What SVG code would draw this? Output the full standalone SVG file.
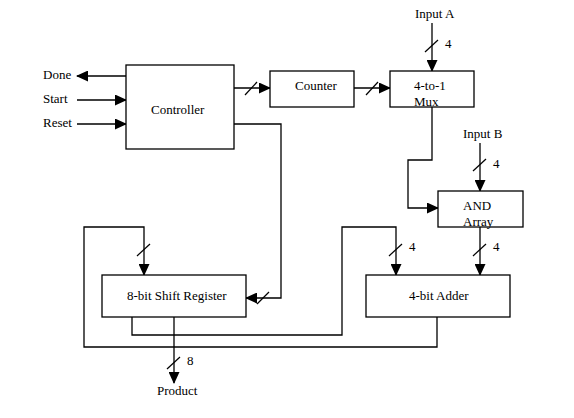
<svg xmlns="http://www.w3.org/2000/svg" width="574" height="418" viewBox="0 0 574 418">
<style>
.box{fill:#fff;stroke:#000;stroke-width:1.3}
.w{fill:none;stroke:#000;stroke-width:1.3}
.s{stroke:#000;stroke-width:1.2}
text{font-family:"Liberation Serif","Times New Roman",serif;font-size:13px;fill:#000}
</style>
<defs>
<marker id="ah" markerUnits="userSpaceOnUse" markerWidth="12" markerHeight="11" refX="11" refY="5.5" orient="auto" viewBox="0 0 12 11">
<path d="M0,0 L12,5.5 L0,11 z" fill="#000"/>
</marker>
</defs>
<rect width="574" height="418" fill="#fff"/>
<g id="connectors">
<line class="w" x1="126" y1="76" x2="77" y2="76" marker-end="url(#ah)"/>
<line class="w" x1="77" y1="100" x2="126" y2="100" marker-end="url(#ah)"/>
<line class="w" x1="77" y1="124" x2="126" y2="124" marker-end="url(#ah)"/>
<line class="w" x1="234" y1="88" x2="270" y2="88" marker-end="url(#ah)"/>
<line class="s" x1="245" y1="95" x2="257" y2="82"/>
<line class="w" x1="354" y1="88" x2="390" y2="88" marker-end="url(#ah)"/>
<line class="s" x1="366" y1="95" x2="378" y2="82"/>
<line class="w" x1="432" y1="23" x2="432" y2="71" marker-end="url(#ah)"/>
<line class="s" x1="425" y1="52" x2="438" y2="40"/>
<polyline class="w" points="432,107 432,160 408,160 408,208 438,208" marker-end="url(#ah)"/>
<line class="w" x1="480" y1="143" x2="480" y2="191" marker-end="url(#ah)"/>
<line class="s" x1="473" y1="171" x2="486" y2="159"/>
<line class="w" x1="480" y1="227" x2="480" y2="275" marker-end="url(#ah)"/>
<line class="s" x1="473" y1="256" x2="486" y2="244"/>
<polyline class="w" points="132,317 132,335 342,335 342,227 396,227 396,275" marker-end="url(#ah)"/>
<line class="s" x1="389" y1="256" x2="402" y2="244"/>
<polyline class="w" points="437,317 437,347 84,347 84,227 144,227 144,275" marker-end="url(#ah)"/>
<line class="s" x1="137" y1="256" x2="150" y2="244"/>
<polyline class="w" points="234,124 281,124 281,298 246,298" marker-end="url(#ah)"/>
<line class="s" x1="257" y1="304" x2="269" y2="292"/>
<line class="w" x1="174" y1="317" x2="174" y2="383" marker-end="url(#ah)"/>
<line class="s" x1="167" y1="369" x2="180" y2="357"/>
</g>
<g id="controller"><rect class="box" x="126" y="65" width="108" height="84"/><text x="151" y="114">Controller</text></g>
<g id="counter"><rect class="box" x="270" y="71" width="84" height="36"/><text x="295" y="90">Counter</text></g>
<g id="mux"><rect class="box" x="390" y="71" width="84" height="36"/><text x="414" y="90">4-to-1</text><text x="414" y="106">Mux</text></g>
<g id="and-array"><rect class="box" x="438" y="191" width="85" height="36"/><text x="463" y="210">AND</text><text x="463" y="226">Array</text></g>
<g id="shift-register"><rect class="box" x="102" y="275" width="144" height="42"/><text x="127" y="300">8-bit Shift Register</text></g>
<g id="adder"><rect class="box" x="366" y="275" width="144" height="42"/><text x="409" y="300">4-bit Adder</text></g>
<g id="labels">
<text x="43" y="79">Done</text>
<text x="43" y="103">Start</text>
<text x="43" y="127">Reset</text>
<text x="415" y="18">Input A</text>
<text x="445" y="48">4</text>
<text x="463" y="138">Input B</text>
<text x="493" y="168">4</text>
<text x="493" y="251">4</text>
<text x="409" y="251">4</text>
<text x="187" y="365">8</text>
<text x="157" y="395">Product</text>
</g>
</svg>
